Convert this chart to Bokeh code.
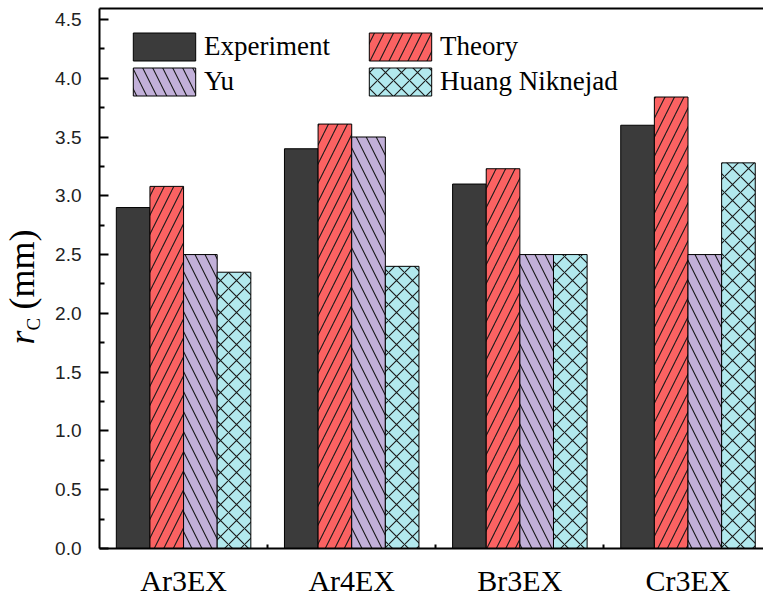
import math

import numpy as np
from bokeh.embed import file_html
from bokeh.layouts import row
from bokeh.models import (ColumnDataSource, FixedTicker, Label, Legend, LegendItem,
                          LinearAxis, NumeralTickFormatter, Range1d)
from bokeh.plotting import figure
from bokeh.resources import INLINE

# ---- data -----------------------------------------------------------------
categories = ["Ar3EX", "Ar4EX", "Br3EX", "Cr3EX"]
experiment = [2.90, 3.40, 3.10, 3.60]
theory = [3.08, 3.61, 3.23, 3.84]
yu = [2.50, 3.50, 2.50, 2.50]
huang_niknejad = [2.35, 2.40, 2.50, 3.28]

series_names = ["Experiment", "Theory", "Yu", "Huang Niknejad"]
y_major_ticks = [0.0, 0.5, 1.0, 1.5, 2.0, 2.5, 3.0, 3.5, 4.0, 4.5]
y_minor_ticks = [0.25, 0.75, 1.25, 1.75, 2.25, 2.75, 3.25, 3.75, 4.25]

# ---- styling --------------------------------------------------------------
SERIF = "Liberation Serif"
SANS = "Liberation Sans"
styles = {
    "Experiment": dict(fill_color="#3b3b3b", hatch_pattern=" ", hatch_scale=10),
    "Theory": dict(fill_color="#fb6262", hatch_pattern="/", hatch_scale=19),
    "Yu": dict(fill_color="#c2b0d9", hatch_pattern="\\", hatch_scale=20),
    "Huang Niknejad": dict(fill_color="#b2e9ee", hatch_pattern="x", hatch_scale=16),
}
bar_width = 0.2
offsets = [-0.3, -0.1, 0.1, 0.3]

TOTAL_W, TOTAL_H = 763, 599
TITLE_W = 52                      # strip holding the vertical axis title

X_START, X_END = -0.5, 3.449
Y_START, Y_END = 0.0, 4.593

# ---- axis-title strip: r_C (mm) ------------------------------------------
t = figure(
    width=TITLE_W, height=TOTAL_H, output_backend="svg", toolbar_location=None,
    x_range=Range1d(0, TITLE_W), y_range=Range1d(0, TOTAL_H),
    min_border=0, x_axis_type=None, y_axis_type=None,
)
t.outline_line_color = None
t.background_fill_color = "white"
t.border_fill_color = "white"

# (text, baseline x, start y above the frame bottom, size in px, style)
# the text is anchored on its middle line, which sits ~0.34 em above the baseline
title_parts = [
    ("r", 36, 204, 36, "italic"),
    ("C", 41, 218, 19, "normal"),
    ("(mm)", 36, 239, 36, "normal"),
]
for text, bx, by, size, style in title_parts:
    t.add_layout(Label(
        x=bx - 0.3375 * size - 2, y=by, x_units="screen", y_units="screen",
        text=text, angle=math.pi / 2,
        text_font=SERIF, text_font_size=f"{size}px", text_font_style=style,
        text_baseline="middle", text_align="left", text_color="black",
    ))

# ---- main chart -----------------------------------------------------------
p = figure(
    width=TOTAL_W - TITLE_W, height=TOTAL_H,
    output_backend="svg", toolbar_location=None,
    x_range=Range1d(X_START, X_END), y_range=Range1d(Y_START, Y_END),
    min_border_left=98 - TITLE_W, min_border_right=0, min_border_top=8, min_border_bottom=48,
    x_axis_type=None, y_axis_type=None,
)
p.outline_line_color = None
p.background_fill_color = "white"
p.border_fill_color = "white"

cat_idx = np.arange(len(categories))
values_by_name = {
    "Experiment": experiment,
    "Theory": theory,
    "Yu": yu,
    "Huang Niknejad": huang_niknejad,
}

renderers = {}
for name, off in zip(series_names, offsets):
    src = ColumnDataSource(dict(x=cat_idx + off, top=values_by_name[name]))
    st = styles[name]
    r = p.vbar(
        x="x", top="top", bottom=0, width=bar_width, source=src,
        fill_color=st["fill_color"], line_color="black", line_width=1,
        hatch_pattern=st["hatch_pattern"], hatch_scale=st["hatch_scale"],
        hatch_color="#1a1a1a", hatch_weight=1.1,
    )
    renderers[name] = r

# ---- axes -----------------------------------------------------------------
xaxis = LinearAxis(
    ticker=FixedTicker(ticks=list(cat_idx), minor_ticks=list(cat_idx[:-1] + 0.5)),
    major_label_overrides={int(i): c for i, c in zip(cat_idx, categories)},
)
xaxis.axis_line_width = 2
xaxis.major_tick_in = 0
xaxis.major_tick_out = 0
xaxis.minor_tick_in = 4
xaxis.minor_tick_out = 0
xaxis.minor_tick_line_width = 2
xaxis.major_label_standoff = 15
xaxis.major_label_text_font = SERIF
xaxis.major_label_text_font_size = "30px"
xaxis.major_label_text_color = "black"
p.add_layout(xaxis, "below")

yaxis = LinearAxis(
    ticker=FixedTicker(ticks=y_major_ticks, minor_ticks=y_minor_ticks),
    formatter=NumeralTickFormatter(format="0.0"),
)
yaxis.axis_line_width = 2
yaxis.major_tick_in = 9
yaxis.major_tick_out = 0
yaxis.major_tick_line_width = 2
yaxis.minor_tick_in = 5
yaxis.minor_tick_out = 0
yaxis.minor_tick_line_width = 2
yaxis.major_label_standoff = 18
yaxis.major_label_text_font = SANS
yaxis.major_label_text_font_size = "19px"
yaxis.major_label_text_color = "#222222"
p.add_layout(yaxis, "left")

# plain frame line along the top
top_axis = LinearAxis(ticker=FixedTicker(ticks=[]), major_label_text_font_size="0px")
top_axis.axis_line_width = 2
top_axis.major_tick_out = 0
top_axis.minor_tick_out = 0
p.add_layout(top_axis, "above")

# ---- legend ---------------------------------------------------------------
# bar legend swatches are drawn at 80% of the glyph box
legend_order = ["Experiment", "Yu", "Theory", "Huang Niknejad"]
legend = Legend(
    items=[LegendItem(label=n, renderers=[renderers[n]]) for n in legend_order],
    location=(26, 449), ncols=2,
    glyph_width=78, glyph_height=35, label_height=31, label_width=157,
    label_standoff=1, spacing=0, padding=0, margin=0,
    label_text_font=SERIF, label_text_font_size="27px", label_text_color="black",
    background_fill_alpha=0, border_line_alpha=0,
)
p.add_layout(legend, "center")

layout = row(t, p, spacing=0)
open("out.html", "w").write(file_html(layout, INLINE))
